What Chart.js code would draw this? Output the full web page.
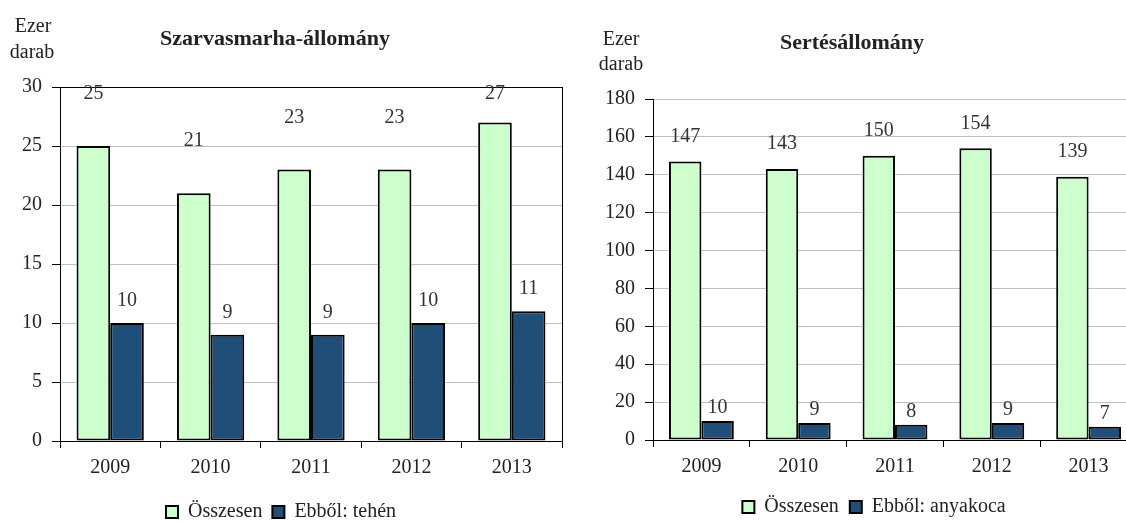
<!DOCTYPE html>
<html><head><meta charset="utf-8">
<script src="https://cdn.jsdelivr.net/npm/chart.js@4.4.1/dist/chart.umd.min.js"></script>
<style>
html,body{margin:0;padding:0;background:#fff;overflow:hidden;width:1126px;height:521px;position:relative;}
#c1{position:absolute;left:0;top:0;width:580px;height:540px;}
#c2{position:absolute;left:575px;top:0;width:600px;height:540px;}
</style></head><body>
<canvas id="c1" width="580" height="540"></canvas>
<canvas id="c2" width="600" height="540"></canvas>
<script>
// ---- data ----
const years = ['2009', '2010', '2011', '2012', '2013'];
const cattleTotal = [25, 21, 23, 23, 27];
const cattleCows = [10, 9, 9, 10, 11];
const pigTotal = [147, 143, 150, 154, 139];
const pigSows = [10, 9, 8, 9, 7];
const cattleAxis = { min: 0, max: 30, step: 5 };
const pigAxis = { min: 0, max: 180, step: 20 };
const cattleTitle = 'Szarvasmarha-állomány';
const pigTitle = 'Sertésállomány';
const unitLines = ['Ezer', 'darab'];
const seriesNames = { total: 'Összesen', cows: 'Ebből: tehén', sows: 'Ebből: anyakoca' };

// ---- style ----
const FONT = "Liberation Serif";
const GREEN = '#CCFFCC';
const NAVY = '#1F4E79';
const GRID = '#BFBFBF';
const TXT = '#222222';
Chart.defaults.font.family = FONT;
Chart.defaults.color = TXT;

const textPlugin = {
  id: 'texts',
  afterDraw(chart, args, opts) {
    const ctx = chart.ctx;
    ctx.save();
    ctx.fillStyle = TXT;
    ctx.textAlign = 'center';
    ctx.textBaseline = 'middle';
    (opts.items || []).forEach(it => {
      ctx.font = (it.bold ? 'bold ' : '') + it.size + 'px "' + FONT + '"';
      ctx.fillText(it.text, it.x, it.y);
    });
    // data labels
    ctx.font = '20px "' + FONT + '"';
    ctx.fillStyle = '#333333';
    chart.data.datasets.forEach((ds, di) => {
      const meta = chart.getDatasetMeta(di);
      const off = opts.offsets[di];
      meta.data.forEach((bar, i) => {
        let y = bar.y - off;
        if (y < chart.chartArea.top + 7) y = chart.chartArea.top + 7;
        ctx.fillText(String(ds.data[i]), bar.x, y);
      });
    });
    ctx.restore();
  },
  afterLayout(chart, args, opts) {
    if (opts.legendShift && chart.legend) {
      chart.legend.left += opts.legendShift;
      chart.legend.right += opts.legendShift;
    }
  },
  beforeDatasetsDraw(chart, args, opts) {
    if (opts.box) {
      const a = chart.chartArea;
      const ctx = chart.ctx;
      ctx.save();
      ctx.strokeStyle = '#000';
      ctx.lineWidth = 1;
      ctx.strokeRect(Math.round(a.left) + 0.5, Math.round(a.top) + 0.5, Math.round(a.right - a.left), Math.round(a.bottom - a.top));
      ctx.restore();
    }
  }
};

function makeChart(id, totals, sub, subName, axis, cfg) {
  return new Chart(document.getElementById(id), {
    type: 'bar',
    data: {
      labels: years,
      datasets: [
        { label: seriesNames.total, data: totals, backgroundColor: GREEN, borderColor: '#000', borderWidth: 2,
          borderSkipped: false, categoryPercentage: 0.67, barPercentage: 1.0 },
        { label: subName, data: sub, backgroundColor: NAVY, borderColor: '#000', borderWidth: 2,
          borderSkipped: false, categoryPercentage: 0.67, barPercentage: 1.0 }
      ]
    },
    options: {
      responsive: false,
      animation: false,
      events: [],
      layout: { padding: cfg.padding },
      scales: {
        y: {
          min: axis.min, max: axis.max,
          ticks: { stepSize: axis.step, color: TXT, font: { family: FONT, size: 20 }, padding: 10 },
          grid: { color: GRID, tickColor: '#000', tickLength: 8, lineWidth: 1 },
          border: { color: '#000', width: 1 },
          afterFit: s => { s.width = cfg.yWidth; }
        },
        x: {
          ticks: { color: TXT, font: { family: FONT, size: 20 }, padding: 8 },
          grid: { drawOnChartArea: false, tickColor: '#000', tickLength: 7, offset: true },
          border: { color: '#000', width: 1 },
          afterFit: s => { s.height = cfg.xHeight; }
        }
      },
      plugins: {
        legend: {
          position: 'bottom',
          labels: { color: TXT, font: { family: FONT, size: 20 }, boxWidth: 12, boxHeight: 12, padding: cfg.legendPad }
        },
        tooltip: { enabled: false },
        texts: { items: cfg.texts, offsets: cfg.offsets, box: cfg.box, legendShift: cfg.legendShift }
      }
    },
    plugins: [textPlugin]
  });
}

makeChart('c1', cattleTotal, cattleCows, seriesNames.cows, cattleAxis, {
  padding: { left: 0, right: 18, top: 87, bottom: 8 },
  yWidth: 60, xHeight: 51, legendPad: 10, legendShift: 0, box: true,
  offsets: [52, 22],
  texts: [
    { text: unitLines[0], x: 33, y: 27, size: 20 },
    { text: unitLines[1], x: 32, y: 53, size: 20 },
    { text: cattleTitle, x: 275, y: 39, size: 22, bold: true }
  ]
});

makeChart('c2', pigTotal, pigSows, seriesNames.sows, pigAxis, {
  padding: { left: 0, right: 38, top: 99, bottom: 13 },
  yWidth: 78, xHeight: 46, legendPad: 11, legendShift: 18, box: false,
  offsets: [25, 13],
  texts: [
    { text: unitLines[0], x: 46, y: 40, size: 20 },
    { text: unitLines[1], x: 46, y: 65, size: 20 },
    { text: pigTitle, x: 277, y: 43, size: 22, bold: true }
  ]
});
</script>
</body></html>
